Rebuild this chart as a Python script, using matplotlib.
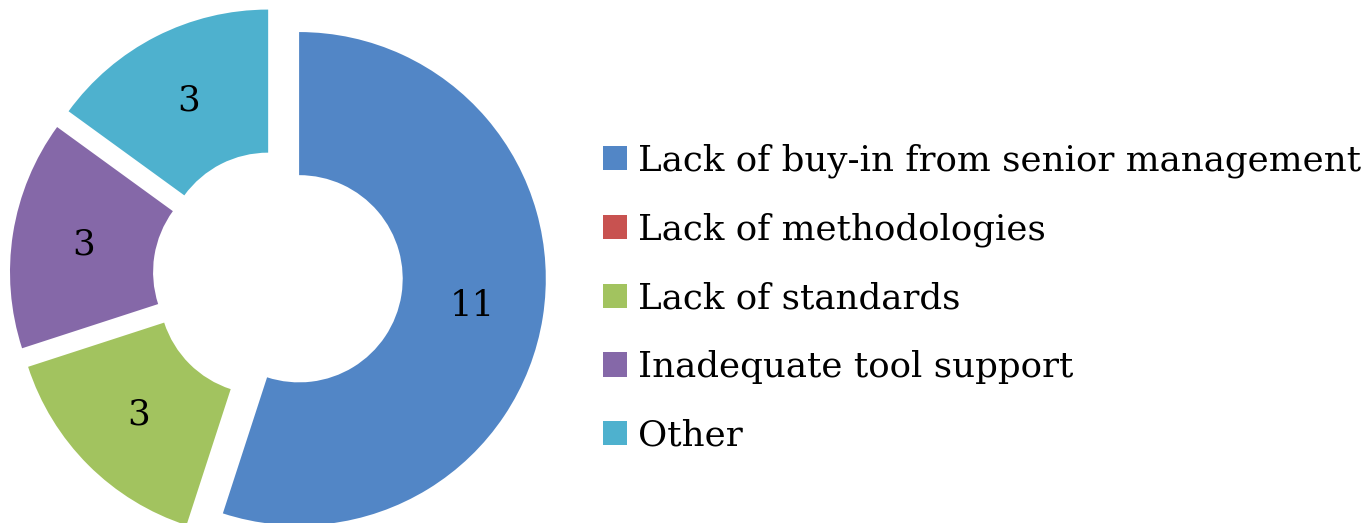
import matplotlib
matplotlib.use("Agg")
import matplotlib.pyplot as plt

categories = ["Lack of buy-in from senior management", "Lack of methodologies",
              "Lack of standards", "Inadequate tool support", "Other"]
values = [11, 0, 3, 3, 3]
colors = ["#5286C6", "#C85250", "#A2C35F", "#8568A8", "#4EB1CE"]

plt.rcParams['font.family'] = ['DejaVu Serif']
FS = 25.7

W, H = 1371, 523
fig = plt.figure(figsize=(W / 100, H / 100), dpi=100)
ax = fig.add_axes([0, 0, 1, 1])
R = 246.7
cx, cy = 277.9, 247.6

total = sum(values)

def fmt(p):
    v = round(p * total / 100)
    return f"{v}" if v > 0 else ""

wedges, texts, autotexts = ax.pie(
    values, colors=colors, startangle=90, counterclock=False,
    explode=[0.087] * len(values), radius=1.0,
    wedgeprops=dict(width=0.58, linewidth=0),
    autopct=fmt, pctdistance=0.71,
    textprops=dict(fontsize=FS, color="black"))
ax.set_xlim(-cx / R, (W - cx) / R)
ax.set_ylim(-cy / R, (H - cy) / R)
ax.set_aspect('auto')
ax.axis('off')

fs_px = FS * 100 / 72
sq = 24 / fs_px
leg = fig.legend(wedges, categories, loc='center left',
                 bbox_to_anchor=(603 / W, (H - 298) / H),
                 frameon=False, fontsize=FS, borderpad=0, borderaxespad=0,
                 handlelength=sq, handleheight=sq, handletextpad=11 / fs_px,
                 labelspacing=0.97)

fig.savefig("out.png", dpi=100)
